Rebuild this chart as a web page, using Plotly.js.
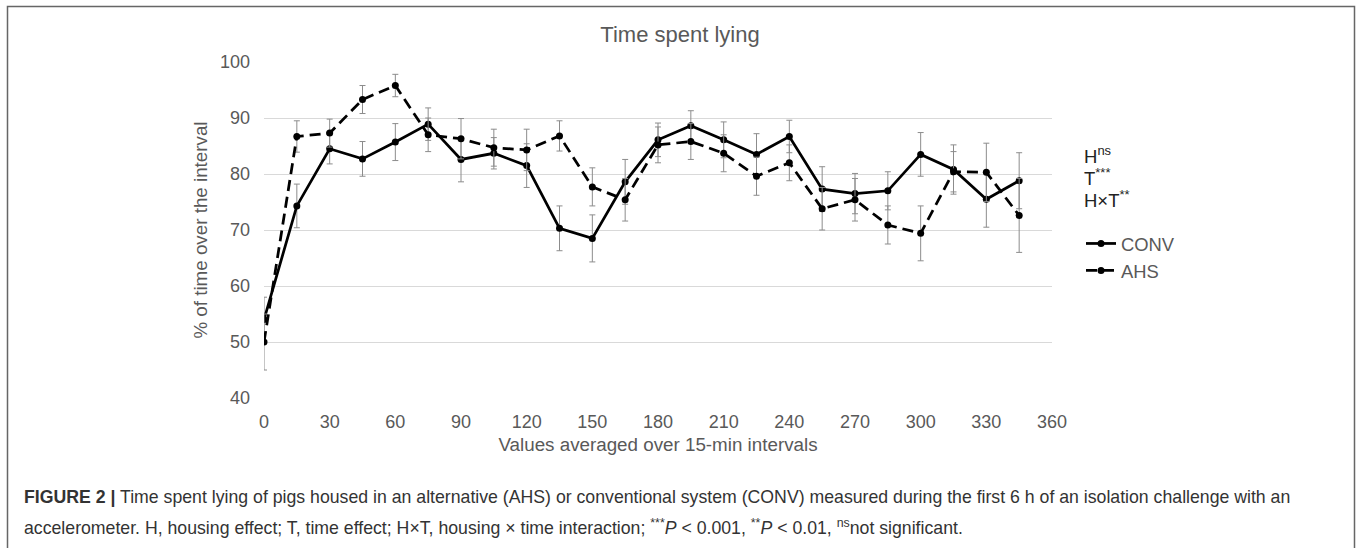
<!DOCTYPE html>
<html>
<head>
<meta charset="utf-8">
<script src="https://cdn.plot.ly/plotly-3.0.1.min.js"></script>
<style>
html, body { margin: 0; padding: 0; background: #fff; }
#chart { width: 1357px; height: 548px; }
</style>
</head>
<body>
<div id="chart"></div>
<script>
// Time (min) at the start of each 15-min interval
const time = [0, 15, 30, 45, 60, 75, 90, 105, 120, 135, 150, 165, 180, 195, 210, 225, 240, 255, 270, 285, 300, 315, 330, 345];
// CONV series (% of time lying) and its error
const conv = [54, 74.3, 84.5, 82.7, 85.7, 88.9, 82.6, 83.7, 81.5, 70.3, 68.5, 78.6, 86.1, 88.6, 86.1, 83.5, 86.7, 77.3, 76.5, 77, 83.5, 80.8, 75.5, 78.8];
const convErr = [4, 3.9, 2.7, 3.1, 3.3, 2.9, 4, 2.8, 3.9, 4, 4.2, 4, 3, 2.7, 3.2, 3.7, 2.9, 4, 3.6, 3.4, 3.9, 4.4, 5, 5];
// AHS series (% of time lying) and its error
const ahs = [50, 86.7, 87.3, 93.3, 95.8, 87, 86.3, 84.7, 84.3, 86.8, 77.7, 75.4, 85.2, 85.8, 83.7, 79.6, 82, 73.8, 75.4, 70.9, 69.4, 80.4, 80.3, 72.6];
const ahsErr = [5, 2.8, 2.5, 2.5, 2, 3, 3.6, 3.3, 3.7, 2.7, 3.4, 3.8, 3.2, 3.2, 3.3, 3.4, 3.2, 3.8, 3.8, 3.4, 4.9, 3.6, 5.2, 6.6];
// Axis ticks
const xTicks = [0, 30, 60, 90, 120, 150, 180, 210, 240, 270, 300, 330, 360];
const yTicks = [40, 50, 60, 70, 80, 90, 100];

const gray = '#595959';
const errStyle = { type: 'data', visible: true, thickness: 1, width: 3, color: '#8c8c8c' };

const traces = [
  {
    x: time, y: conv, name: 'CONV', type: 'scatter', mode: 'lines+markers',
    line: { color: '#000', width: 2.75 },
    marker: { color: '#000', size: 7 },
    error_y: Object.assign({ array: convErr }, errStyle)
  },
  {
    x: time, y: ahs, name: 'AHS', type: 'scatter', mode: 'lines+markers',
    line: { color: '#000', width: 2.75, dash: '11px,6px' },
    marker: { color: '#000', size: 7 },
    error_y: Object.assign({ array: ahsErr }, errStyle)
  }
];

const W = 1357, H = 548;
const L = 264, R = 1052, T = 62, B = 398;
const px = v => (v - L) / (R - L);
const py = v => (B - v) / (B - T);

const capFont = { family: 'Liberation Sans, Arial, sans-serif', size: 17.7, color: '#333' };
const noteFont = { family: 'Liberation Sans, Arial, sans-serif', size: 18.5, color: '#222' };

const layout = {
  width: W, height: H,
  margin: { l: L, r: W - R, t: T, b: H - B, pad: 0, autoexpand: false },
  paper_bgcolor: '#fff', plot_bgcolor: '#fff',
  font: { family: 'Liberation Sans, Arial, sans-serif', color: gray },
  title: { text: 'Time spent lying', font: { size: 22, color: gray }, xref: 'container', yref: 'container', x: 680 / W, xanchor: 'center', y: 1 - 34 / H, yanchor: 'middle' },
  xaxis: {
    range: [0, 360], tickvals: xTicks, ticktext: xTicks.map(String),
    showgrid: false, zeroline: false, showline: false, ticks: '', automargin: false,
    tickfont: { size: 18, color: gray }, ticklabelstandoff: 11,
    title: { text: 'Values averaged over 15-min intervals', font: { size: 18.8, color: gray }, standoff: 6 }
  },
  yaxis: {
    range: [40, 100], tickvals: yTicks, ticktext: yTicks.map(String),
    showgrid: true, gridcolor: '#d9d9d9', gridwidth: 1, zeroline: false, showline: false, ticks: '', automargin: false,
    tickfont: { size: 18, color: gray }, ticklabelstandoff: 13,
    title: { text: '% of time over the interval', font: { size: 18.8, color: gray }, standoff: 7 }
  },
  showlegend: true,
  legend: {
    x: px(1081), y: py(225), xanchor: 'left', yanchor: 'top',
    font: { size: 18.4, color: gray }, bgcolor: 'rgba(0,0,0,0)',
    itemwidth: 30, tracegroupgap: 0
  },
  annotations: [
    { xref: 'paper', yref: 'paper', x: px(1082), y: py(155), xanchor: 'left', yanchor: 'middle', showarrow: false, text: 'H<sup>ns</sup>', font: noteFont },
    { xref: 'paper', yref: 'paper', x: px(1082), y: py(177), xanchor: 'left', yanchor: 'middle', showarrow: false, text: 'T<sup>***</sup>', font: noteFont },
    { xref: 'paper', yref: 'paper', x: px(1082), y: py(199), xanchor: 'left', yanchor: 'middle', showarrow: false, text: 'H×T<sup>**</sup>', font: noteFont },
    { xref: 'paper', yref: 'paper', x: px(22), y: py(497), xanchor: 'left', yanchor: 'middle', showarrow: false, align: 'left',
      text: '<b>FIGURE 2 |</b> Time spent lying of pigs housed in an alternative (AHS) or conventional system (CONV) measured during the first 6 h of an isolation challenge with an', font: capFont },
    { xref: 'paper', yref: 'paper', x: px(22), y: py(527), xanchor: 'left', yanchor: 'middle', showarrow: false, align: 'left',
      text: 'accelerometer. H, housing effect; T, time effect; H×T, housing × time interaction; <sup>***</sup><i>P</i> < 0.001, <sup>**</sup><i>P</i> < 0.01, <sup>ns</sup>not significant.', font: capFont }
  ],
  shapes: [
    { type: 'path', xref: 'paper', yref: 'paper',
      path: 'M ' + px(7.5) + ' ' + py(560) + ' L ' + px(7.5) + ' ' + py(6.5) + ' L ' + px(1354.5) + ' ' + py(6.5) + ' L ' + px(1354.5) + ' ' + py(560),
      line: { color: '#666', width: 1.5 } }
  ]
};

Plotly.newPlot('chart', traces, layout, { displayModeBar: false, staticPlot: true });
</script>
</body>
</html>
